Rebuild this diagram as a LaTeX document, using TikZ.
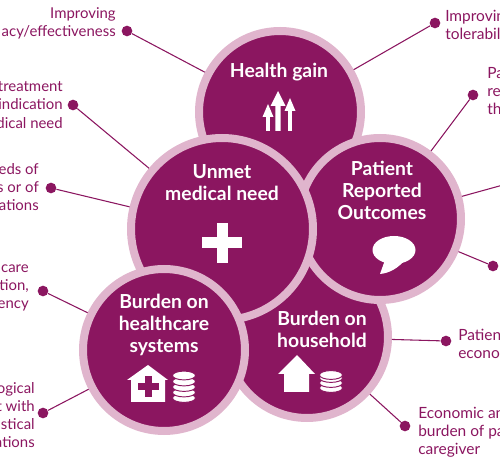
\documentclass[tikz,border=0pt]{standalone}
\usepackage{fontspec}
\setmainfont{Lato}
\usepackage{tikz}
\usetikzlibrary{positioning,calc}
\definecolor{plumDark}{HTML}{8B1660}
\definecolor{plumRing}{HTML}{E0B5CD}

\tikzset{
  ringnode/.style={circle,draw=plumRing,fill=plumDark,line width=6pt,inner sep=0pt,minimum size=#1},
  dotnode/.style={circle,fill=plumDark,inner sep=0pt,minimum size=8pt},
  linknode/.style={draw=plumDark,line width=0.8pt},
  headnode/.style={white,align=center,font=\fontsize{14.5}{16.5}\selectfont\bfseries},
  leftlab/.style={plumDark,align=right,anchor=east,inner sep=0pt,font=\fontsize{11.2}{13.6}\selectfont},
  rightlab/.style={plumDark,align=left,anchor=west,inner sep=0pt,font=\fontsize{11.6}{13.6}\selectfont}
}

\begin{document}
\begin{tikzpicture}[x=0.75pt,y=-0.75pt]
\path[use as bounding box,clip] (0,0) rectangle (500,466);
% circles, back to front
\node[ringnode=121.5pt] (health) at (280,112) {};
\node[ringnode=121.5pt] (household) at (307,337) {};
\node[ringnode=121.5pt] (patient) at (380,219) {};
\node[ringnode=136.5pt] (unmet) at (222,229) {};
\node[ringnode=121.5pt] (system) at (164,350) {};
% headings
\node[headnode] (healthT) at (279,72) {Health gain};
\node[headnode] (unmetT) at (222,183) {Unmet\\medical need};
\node[headnode] (patientT) at (382,190) {Patient\\Reported\\Outcomes};
\node[headnode] (systemT) at (164,325) {Burden on\\healthcare\\systems};
\node[headnode] (householdT) at (322,329) {Burden on\\household};
% dots and connectors
\foreach \name/\x/\y in {d1/127/31,d2/73/105,d3/51/188,d4/43/291,d5/43/413,d6/435/23,d7/473/95,d9/493/266,d10/446/341,d11/405/426}
  \node[dotnode] (\name) at (\x,\y) {};
\coordinate (d8) at (503,185);
\foreach \a/\b in {d1/health,d2/unmet,d3/unmet,d4/system,d5/system,d6/health,d7/patient,d8/patient,d9/patient,d10/household,d11/household}
  \draw[linknode] (\a) -- (\b);
% labels
\node[leftlab] (lab1) at (116,23) {Improving\\acy/effectiveness};
\node[leftlab] (lab2) at (63,105) {treatment\\indication\\dical need};
\node[leftlab] (lab3) at (39,187) {eds of\\s or of\\ations};
\node[leftlab] (lab4) at (29,288) {care\\tion,\\ency};
\node[leftlab] (lab5) at (35,415) {ogical\\t with\\istical\\ations};
\node[rightlab] (lab6) at (445,25) {Improvin\\tolerabil};
\node[rightlab] (lab7) at (487,91) {Pa\\re\\th};
\node[rightlab] (lab8) at (458,344) {Patien\\econo};
\node[rightlab] (lab9) at (418,432) {Economic an\\burden of pa\\caregiver};
% arrows
\foreach \x/\tip/\base/\hw/\sw in {268/104/117/5.5/1.8,278/91/106/7.5/2.6,290/98/111/5.5/1.8}
  \fill[white] (\x-\sw,131) -- (\x-\sw,\base) -- (\x-\hw,\base) -- (\x,\tip) -- (\x+\hw,\base) -- (\x+\sw,\base) -- (\x+\sw,131) -- cycle;
% plus
\fill[white] (202,237.5) rectangle (242,248.5);
\fill[white] (216.5,223) rectangle (227.5,263);
% speech bubble
\fill[white] (394,250) ellipse (21.5 and 14);
\fill[white] (385,260) -- (380,274) .. controls (390,273) and (398,268) .. (405,260) -- cycle;
% houses
\fill[white] (148,365) -- (168,380) -- (165,380) -- (165,402) -- (131,402) -- (131,380) -- (127,380) -- cycle;
\fill[plumDark] (137.5,383.5) rectangle (158.5,390.5);
\fill[plumDark] (144.5,376.5) rectangle (151.5,397.5);
\fill[white] (297,355) -- (315,374) -- (309,374) -- (309,392) -- (284,392) -- (284,374) -- (278,374) -- cycle;
% coins
\foreach \y in {398,392.5,387,381.5,375.5}
  \filldraw[fill=white,draw=plumDark,line width=0.7pt] (184,\y) ellipse (11.5 and 4.4);
\foreach \y in {388,383,378,375}
  \filldraw[fill=white,draw=plumDark,line width=0.7pt] (331,\y) ellipse (11.5 and 4.4);
\end{tikzpicture}
\end{document}
